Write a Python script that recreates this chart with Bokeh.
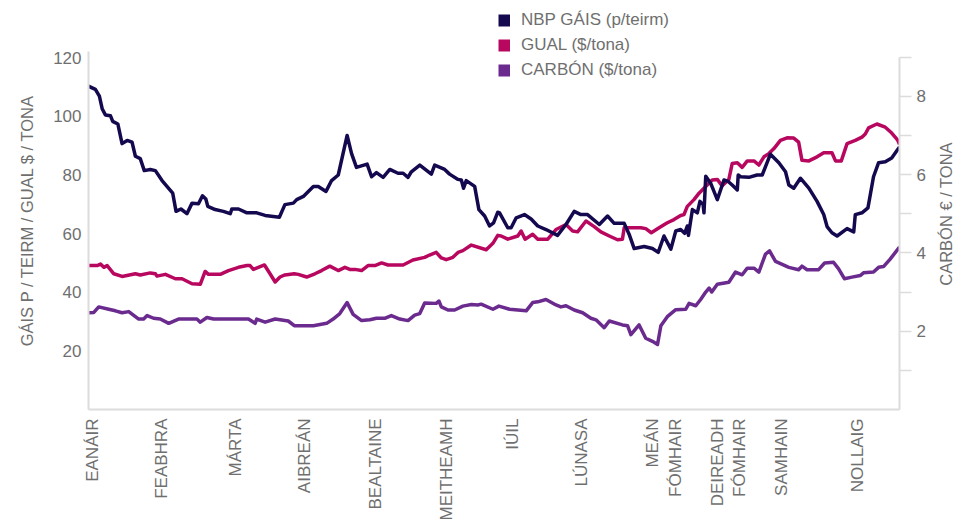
import math
from bokeh.plotting import figure
from bokeh.models import (Range1d, LinearAxis, FixedTicker, Legend, LegendItem,
                          ColumnDataSource)
from bokeh.embed import file_html
from bokeh.resources import INLINE

# ---------------- data (day of year, values) ----------------
gas_day = [0, 3.1, 4.9, 6.2, 7.6, 9.9, 10.9, 13.2, 15.1, 17.4, 19.6, 21.1, 23.3, 25.1, 27.8, 30.1,
           33.1, 37.9, 39.4, 41.6, 44.3, 46.6, 49.5, 51.3, 52.8, 53.7, 57.0, 60.7, 63.8, 64.5, 67.5,
           71.3, 75.7, 79.5, 85.9, 88.4, 92.2, 93.7, 96.7, 101.2, 103.4, 106.9, 109.4, 112.4, 116.4,
           118.4, 120.6, 125.4, 127.4, 129.6, 132.6, 135.6, 139.3, 141.6, 143.8, 145.3, 149.1, 154.3,
           155.8, 160.3, 162.5, 166.3, 167.8, 168.8, 170.0, 173.8, 175.7, 178.3, 180.5, 182.3, 184.2,
           185.0, 188.7, 190.2, 192.5, 196.2, 199.2, 202.2, 205.9, 211.1, 214.9, 218.6, 221.6, 224.6,
           229.9, 233.6, 236.6, 241.1, 243.3, 245.6, 250.1, 253.8, 256.4, 259.0, 260.5, 262.1, 264.3,
           266.5, 268.3, 269.5, 270.0, 271.8, 274.0, 275.2, 276.6, 277.0, 277.8, 280.0, 283.0, 286.0,
           287.9, 289.7, 292.0, 292.4, 293.5, 297.2, 300.9, 303.2, 306.9, 310.7, 313.7, 315.2, 317.4,
           320.4, 324.2, 327.9, 330.9, 332.4, 334.6, 336.9, 341.4, 344.4, 345.1, 348.1, 350.8, 353.3,
           355.6, 358.6, 361.5, 364.1, 365]
gas_val = [110.3, 109.2, 106.9, 102.5, 100.5, 100.2, 98.3, 97.4, 90.7, 91.8, 91.2, 86.4, 85.6, 81.5,
           81.9, 81.5, 78.1, 73.8, 67.6, 68.4, 66.8, 70.4, 70.2, 72.9, 71.8, 69.3, 68.2, 67.6, 66.8,
           68.4, 68.4, 67.1, 67.1, 66.2, 65.6, 69.9, 70.4, 71.6, 72.7, 76.1, 76.1, 74.4, 78.1, 80.0,
           93.5, 87.3, 82.6, 83.7, 79.4, 80.8, 79.2, 81.9, 80.6, 80.6, 79.2, 81.1, 83.4, 80.3, 83.4,
           81.9, 80.3, 78.5, 78.3, 75.5, 78.1, 76.1, 68.2, 66.0, 62.6, 63.7, 67.3, 67.1, 62.0, 62.0,
           65.4, 66.5, 65.0, 62.6, 61.4, 59.4, 63.1, 67.6, 66.5, 66.5, 63.1, 66.0, 63.5, 63.5, 59.8,
           54.9, 55.6, 54.9, 53.6, 59.2, 57.0, 54.7, 60.9, 61.4, 60.1, 62.6, 59.4, 68.2, 67.1, 71.0,
           69.9, 67.1, 79.6, 77.2, 71.6, 78.3, 77.8, 76.6, 74.9, 80.0, 79.4, 79.2, 80.0, 80.0, 87.1,
           84.2, 81.1, 76.6, 75.5, 78.9, 75.5, 71.0, 66.5, 62.4, 60.3, 59.2, 61.7, 60.6, 66.5, 67.1,
           68.8, 79.4, 84.2, 84.5, 85.8, 88.6, 89.5]

coal_day = [0, 3.9, 5.4, 6.9, 8.4, 11.4, 15.1, 21.1, 23.3, 27.8, 30.1, 30.8, 34.6, 39.1, 42.1, 46.6,
            50.3, 52.5, 54.0, 59.3, 63.0, 67.5, 71.3, 72.7, 74.2, 79.2, 81.7, 84.0, 86.2, 88.4, 92.6,
            94.4, 98.2, 101.9, 104.9, 108.6, 112.4, 115.4, 117.6, 119.9, 122.9, 125.8, 128.9, 131.9,
            134.8, 141.6, 146.0, 151.3, 153.5, 156.5, 158.8, 161.0, 164.0, 166.3, 168.5, 172.3, 179.0,
            182.0, 184.2, 185.7, 188.7, 193.2, 194.7, 196.5, 199.9, 202.2, 206.7, 210.4, 214.9, 217.9,
            220.1, 223.9, 227.6, 230.6, 234.4, 238.1, 240.3, 241.1, 248.6, 250.8, 253.3, 256.8, 260.5,
            263.5, 266.5, 268.0, 269.5, 272.5, 274.8, 277.0, 280.7, 283.0, 285.2, 288.2, 289.7, 292.0,
            294.2, 296.5, 299.5, 301.7, 304.0, 306.2, 308.5, 311.4, 314.4, 317.4, 319.6, 321.1, 324.2,
            327.9, 330.9, 334.6, 336.2, 338.8, 341.4, 345.1, 348.1, 349.6, 351.1, 354.8, 358.6, 361.5,
            364.1, 365]
coal_val = [49.1, 49.1, 49.6, 48.5, 49.1, 46.3, 45.4, 46.3, 45.9, 46.6, 46.3, 45.5, 46.1, 44.6, 44.6,
            42.9, 42.7, 47.1, 46.1, 46.1, 47.4, 48.5, 49.1, 49.1, 47.8, 49.3, 46.3, 43.5, 45.2, 45.9,
            46.3, 46.1, 45.2, 46.3, 47.4, 48.9, 47.4, 48.5, 47.8, 47.8, 47.4, 49.1, 49.1, 50.0, 49.3,
            49.3, 51.0, 51.9, 52.7, 53.6, 51.7, 51.1, 51.9, 53.6, 54.2, 56.1, 54.5, 56.7, 59.4, 59.2,
            58.1, 59.2, 60.9, 58.1, 59.8, 58.1, 58.1, 61.4, 63.1, 60.9, 60.6, 64.3, 62.4, 60.6, 59.2,
            57.9, 58.1, 62.0, 62.0, 61.7, 60.3, 62.0, 63.7, 64.8, 66.2, 66.5, 69.3, 71.6, 73.8, 75.5,
            78.3, 78.5, 76.3, 78.5, 83.9, 84.2, 82.6, 84.8, 84.8, 83.4, 86.2, 87.3, 89.0, 91.8, 92.7,
            92.6, 91.2, 85.0, 84.8, 86.2, 87.6, 87.6, 84.8, 84.8, 90.7, 91.8, 92.9, 94.0, 96.1, 97.4,
            96.3, 94.3, 92.0, 90.5]

carbon_day = [0, 2.4, 4.6, 9.1, 12.1, 15.1, 18.1, 22.6, 24.8, 26.4, 29.3, 32.3, 36.1, 40.5, 48.8,
              50.3, 53.3, 56.3, 72.0, 75.0, 75.7, 79.5, 84.0, 89.9, 92.6, 101.2, 107.2, 110.1, 113.1,
              116.4, 119.1, 122.9, 126.6, 129.6, 133.3, 136.3, 140.1, 143.8, 146.8, 149.1, 151.3,
              156.5, 157.7, 158.8, 161.8, 164.8, 168.5, 172.3, 175.2, 176.7, 182.0, 184.7, 189.5,
              197.0, 199.9, 202.2, 205.9, 210.4, 212.6, 214.9, 218.6, 222.4, 226.1, 228.4, 232.1,
              234.4, 240.3, 242.6, 244.1, 247.8, 250.8, 253.8, 256.1, 257.6, 260.5, 264.3, 268.8,
              270.3, 273.3, 275.5, 277.8, 279.3, 280.5, 283.0, 288.2, 291.2, 294.2, 296.5, 299.5,
              301.7, 304.7, 306.5, 309.2, 315.2, 319.6, 321.1, 323.4, 328.6, 331.3, 335.3, 337.6,
              340.2, 343.6, 347.3, 348.8, 353.3, 355.6, 357.8, 360.8, 364.2, 365]
carbon_val = [2.47, 2.48, 2.62, 2.56, 2.52, 2.47, 2.50, 2.31, 2.31, 2.40, 2.33, 2.31, 2.20, 2.31,
              2.31, 2.23, 2.35, 2.31, 2.31, 2.20, 2.31, 2.23, 2.31, 2.26, 2.14, 2.14, 2.20, 2.31,
              2.45, 2.73, 2.43, 2.27, 2.29, 2.33, 2.33, 2.40, 2.31, 2.27, 2.41, 2.45, 2.72, 2.71,
              2.77, 2.62, 2.54, 2.54, 2.64, 2.68, 2.67, 2.69, 2.56, 2.64, 2.56, 2.52, 2.73, 2.75,
              2.81, 2.67, 2.62, 2.65, 2.54, 2.47, 2.33, 2.29, 2.09, 2.26, 2.16, 2.14, 1.91, 2.16,
              1.82, 1.74, 1.66, 2.14, 2.37, 2.55, 2.56, 2.71, 2.65, 2.81, 3.00, 3.10, 3.00, 3.20,
              3.25, 3.51, 3.44, 3.61, 3.61, 3.51, 3.97, 4.05, 3.78, 3.63, 3.57, 3.66, 3.57, 3.57,
              3.74, 3.76, 3.59, 3.34, 3.38, 3.42, 3.49, 3.51, 3.63, 3.65, 3.84, 4.09, 4.15]

month_ticks = [2, 33, 66, 97, 129, 161, 191, 222, 259, 288, 312, 346]
month_labels = ["EANÁIR", "FEABHRA", "MÁRTA", "AIBREÁN", "BEALTAINE", "MEITHEAMH", "IÚIL",
                "LÚNASA", "MEÁN\nFÓMHAIR", "DEIREADH\nFÓMHAIR", "SAMHAIN", "NOLLAIG"]
left_ticks = [20, 40, 60, 80, 100, 120]
right_ticks = [1, 2, 3, 4, 5, 6, 7, 8, 9]
right_labelled = [2, 4, 6, 8]

series_names = ["NBP GÁIS (p/teirm)", "GUAL ($/tona)", "CARBÓN ($/tona)"]
left_title = "GÁIS P / TEIRM / GUAL $ / TONA"
right_title = "CARBÓN € / TONA"

# ---------------- styling ----------------
FONT = "Liberation Sans"
TXT = "#6f6f6f"
AXC = "#dcdcdc"
C_GAS = "#14094f"
C_COAL = "#b8075f"
C_CARB = "#6b2a8e"
NB = "\u00a0"

p = figure(width=966, height=523, output_backend="svg", toolbar_location=None,
           x_range=Range1d(0, 365), y_range=Range1d(0, 136.8),
           min_border_left=88, min_border_right=65, min_border_top=8, min_border_bottom=109)
p.extra_y_ranges = {"carbon": Range1d(0, 10.24)}
p.xgrid.visible = False
p.ygrid.visible = False
p.outline_line_color = None


def style_axis(ax, tick_size):
    ax.axis_line_color = AXC
    ax.axis_line_width = 2
    ax.major_label_text_font = FONT
    ax.major_label_text_font_size = tick_size
    ax.major_label_text_color = TXT
    ax.axis_label_text_font = FONT
    ax.axis_label_text_font_size = "16.5px"
    ax.axis_label_text_color = TXT
    ax.axis_label_text_font_style = "normal"
    ax.minor_tick_line_color = None
    ax.major_tick_in = 0


# left axis
ya = p.yaxis[0]
style_axis(ya, "17px")
ya.ticker = FixedTicker(ticks=left_ticks)
ya.bounds = (0, 122)
ya.major_tick_line_color = None
ya.major_tick_out = 0
ya.major_label_standoff = 7
ya.axis_label = left_title + NB * 5
ya.axis_label_standoff = 14

# bottom axis
xa = p.xaxis[0]
style_axis(xa, "17px")
xa.ticker = FixedTicker(ticks=month_ticks)
xa.major_label_overrides = {t: lab for t, lab in zip(month_ticks, month_labels)}
xa.major_label_orientation = math.pi / 2
xa.major_tick_line_color = None
xa.major_tick_out = 0
xa.major_label_standoff = 9

# right axis
ra = LinearAxis(y_range_name="carbon", ticker=FixedTicker(ticks=right_ticks), bounds=(0, 9))
style_axis(ra, "17px")
ra.major_label_overrides = {t: (str(t) if t in right_labelled else "") for t in right_ticks}
ra.major_tick_line_color = AXC
ra.major_tick_line_width = 1.5
ra.major_tick_out = 12
ra.major_label_standoff = 5
ra.axis_label = NB * 27 + right_title
ra.axis_label_orientation = math.pi / 2
ra.axis_label_align = "start"
ra.axis_label_standoff = 17
p.add_layout(ra, "right")

# lines
src_gas = ColumnDataSource(dict(x=gas_day, y=gas_val))
src_coal = ColumnDataSource(dict(x=coal_day, y=coal_val))
src_carb = ColumnDataSource(dict(x=carbon_day, y=carbon_val))
p.line("x", "y", source=src_carb, y_range_name="carbon", line_color=C_CARB, line_width=3.5,
       line_join="round")
p.line("x", "y", source=src_coal, line_color=C_COAL, line_width=3.5, line_join="round")
p.line("x", "y", source=src_gas, line_color=C_GAS, line_width=3.5, line_join="round")

# legend with square swatches: hidden thick copies of each series act as the legend glyphs
items = []
for name, col, src, rng in zip(series_names, [C_GAS, C_COAL, C_CARB],
                               [src_gas, src_coal, src_carb], ["default", "default", "carbon"]):
    r = p.line("x", "y", source=src, y_range_name=rng, line_color=col, line_width=12,
               line_cap="butt", visible=False)
    items.append(LegendItem(label=name, renderers=[r]))
legend = Legend(items=items, location=(410, 329), glyph_width=12, glyph_height=20,
                label_standoff=11, label_height=20, spacing=5, padding=0, margin=0,
                label_text_font=FONT, label_text_font_size="17px", label_text_color=TXT,
                border_line_color=None, background_fill_alpha=0, inactive_fill_alpha=0,
                click_policy="none")
p.add_layout(legend, "center")

open("out.html", "w").write(file_html(p, INLINE))
